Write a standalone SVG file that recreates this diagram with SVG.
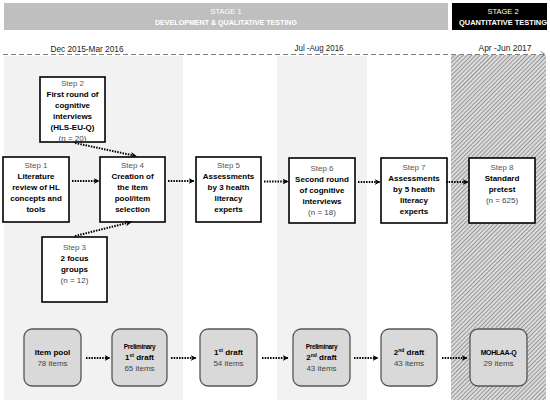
<svg xmlns="http://www.w3.org/2000/svg" width="550" height="405" viewBox="0 0 550 405">
<defs>
<pattern id="hatch" width="3" height="3" patternUnits="userSpaceOnUse" patternTransform="rotate(45)">
<rect width="3" height="3" fill="#dcdcdc"/>
<line x1="0" y1="0" x2="0" y2="3" stroke="#7a7a7a" stroke-width="1.4"/>
</pattern>
<marker id="chev" markerWidth="7" markerHeight="7" refX="5.5" refY="3.5" orient="auto" markerUnits="userSpaceOnUse">
<path d="M0,0.5 L6,3.5 L0,6.5 L2,3.5 z" fill="#000"/>
</marker>
<marker id="tl" markerWidth="7" markerHeight="7" refX="5" refY="3.5" orient="auto" markerUnits="userSpaceOnUse">
<path d="M0.5,0.5 L5,3.5 L0.5,6.5" fill="none" stroke="#808080" stroke-width="1"/>
</marker>
</defs>
<style>
text{font-family:"Liberation Sans",Arial,sans-serif;text-anchor:middle;}
.hdr{fill:#fff;font-size:7.5px;}
.hb{font-weight:bold;}
.date{font-size:9px;fill:#222;}
.box{fill:#fff;stroke:#000;stroke-width:1.6;}
.rbox{fill:#d9d9d9;stroke:#555;stroke-width:1.3;}
.st{font-size:8px;fill:#555;}
.b{font-size:8px;font-weight:bold;fill:#000;}
.n{font-size:8px;fill:#444;}
.pre{font-size:6.5px;font-weight:bold;fill:#000;letter-spacing:-0.35px;}
.arr{stroke:#000;stroke-width:2;stroke-dasharray:1.5,1.2;fill:none;marker-end:url(#chev);}
</style>
<g id="background">
<rect x="4" y="56" width="179" height="344" fill="#f2f2f2"/>
<rect x="277" y="56" width="90" height="344" fill="#f2f2f2"/>
<rect x="451" y="55" width="95" height="345" fill="url(#hatch)"/>
</g>
<g id="stage1">
<rect x="4" y="3" width="444" height="27" fill="#bfbfbf"/>
<text class="hdr" x="226" y="14">STAGE 1</text>
<text class="hdr hb" x="226" y="25" textLength="142" lengthAdjust="spacingAndGlyphs">DEVELOPMENT &amp; QUALITATIVE TESTING</text>
</g>
<g id="stage2">
<rect x="452" y="3" width="95" height="27" fill="#000"/>
<text class="hdr" x="503" y="14">STAGE 2</text>
<text class="hdr hb" x="503" y="25" textLength="88" lengthAdjust="spacingAndGlyphs">QUANTITATIVE TESTING</text>
</g>
<g id="timeline">
<line x1="3" y1="54.5" x2="545" y2="54.5" stroke="#808080" stroke-width="1.2" stroke-dasharray="5,3" marker-end="url(#tl)"/>
<text class="date" x="87" y="52" textLength="73" lengthAdjust="spacingAndGlyphs">Dec 2015-Mar 2016</text>
<text class="date" x="319" y="51" textLength="49" lengthAdjust="spacingAndGlyphs">Jul -Aug 2016</text>
<text class="date" x="505" y="51" textLength="53" lengthAdjust="spacingAndGlyphs">Apr -Jun 2017</text>
</g>
<g id="step2">
<rect class="box" x="40" y="77" width="65" height="65"/>
<text class="st" x="72.5" y="86">Step 2</text>
<text class="b" x="72.5" y="97">First round of</text>
<text class="b" x="72.5" y="108">cognitive</text>
<text class="b" x="72.5" y="119">interviews</text>
<text class="b" x="72.5" y="130">(HLS-EU-Q)</text>
<text class="n" x="72.5" y="141">(n = 20)</text>
</g>
<g id="step1">
<rect class="box" x="3" y="157" width="66" height="65"/>
<text class="st" x="36" y="168">Step 1</text>
<text class="b" x="36" y="179">Literature</text>
<text class="b" x="36" y="190">review of HL</text>
<text class="b" x="36" y="201">concepts and</text>
<text class="b" x="36" y="212">tools</text>
</g>
<g id="step4">
<rect class="box" x="100" y="157" width="65" height="65"/>
<text class="st" x="132.5" y="168">Step 4</text>
<text class="b" x="132.5" y="179">Creation of</text>
<text class="b" x="132.5" y="190">the item</text>
<text class="b" x="132.5" y="201">pool/item</text>
<text class="b" x="132.5" y="212">selection</text>
</g>
<g id="step3">
<rect class="box" x="42" y="237" width="65" height="65"/>
<text class="st" x="74.5" y="249.5">Step 3</text>
<text class="b" x="74.5" y="260.5">2 focus</text>
<text class="b" x="74.5" y="271.5">groups</text>
<text class="n" x="74.5" y="282.5">(n = 12)</text>
</g>
<g id="step5">
<rect class="box" x="196" y="157" width="65" height="65"/>
<text class="st" x="228.5" y="168">Step 5</text>
<text class="b" x="228.5" y="179">Assessments</text>
<text class="b" x="228.5" y="190">by 3 health</text>
<text class="b" x="228.5" y="201">literacy</text>
<text class="b" x="228.5" y="212">experts</text>
</g>
<g id="step6">
<rect class="box" x="289" y="158" width="66" height="65"/>
<text class="st" x="322" y="171">Step 6</text>
<text class="b" x="322" y="182">Second round</text>
<text class="b" x="322" y="193">of cognitive</text>
<text class="b" x="322" y="204">interviews</text>
<text class="n" x="322" y="215">(n = 18)</text>
</g>
<g id="step7">
<rect class="box" x="381" y="158" width="66" height="65"/>
<text class="st" x="414" y="170">Step 7</text>
<text class="b" x="414" y="181">Assessments</text>
<text class="b" x="414" y="192">by 5 health</text>
<text class="b" x="414" y="203">literacy</text>
<text class="b" x="414" y="214">experts</text>
</g>
<g id="step8">
<rect class="box" x="469" y="158" width="66" height="65"/>
<text class="st" x="502" y="170">Step 8</text>
<text class="b" x="502" y="181">Standard</text>
<text class="b" x="502" y="192">pretest</text>
<text class="n" x="502" y="203">(n = 625)</text>
</g>
<g id="itempool">
<rect class="rbox" x="24" y="329" width="57" height="57" rx="8"/>
<text class="b" x="52.5" y="355">Item pool</text>
<text class="n" x="52.5" y="366">78 items</text>
</g>
<g id="prelim1">
<rect class="rbox" x="112" y="329" width="55" height="57" rx="8"/>
<text class="pre" x="139.5" y="349">Preliminary</text>
<text class="b" x="139.5" y="360">1<tspan font-size="5" dy="-3">st</tspan><tspan dy="3"> draft</tspan></text>
<text class="n" x="139.5" y="371">65 items</text>
</g>
<g id="draft1">
<rect class="rbox" x="200" y="329" width="57" height="57" rx="8"/>
<text class="b" x="228.5" y="355">1<tspan font-size="5" dy="-3">st</tspan><tspan dy="3"> draft</tspan></text>
<text class="n" x="228.5" y="366">54 items</text>
</g>
<g id="prelim2">
<rect class="rbox" x="293" y="329" width="57" height="57" rx="8"/>
<text class="pre" x="321.5" y="349">Preliminary</text>
<text class="b" x="321.5" y="360">2<tspan font-size="5" dy="-3">nd</tspan><tspan dy="3"> draft</tspan></text>
<text class="n" x="321.5" y="371">43 items</text>
</g>
<g id="draft2">
<rect class="rbox" x="381" y="329" width="56" height="57" rx="8"/>
<text class="b" x="409" y="355">2<tspan font-size="5" dy="-3">nd</tspan><tspan dy="3"> draft</tspan></text>
<text class="n" x="409" y="366">43 items</text>
</g>
<g id="mohlaaq">
<rect class="rbox" x="470" y="329" width="57" height="57" rx="8"/>
<text class="pre" x="498.5" y="355" style="font-size:7px">MOHLAA-Q</text>
<text class="n" x="498.5" y="366">29 items</text>
</g>
<g id="connectors">
<line class="arr" x1="72" y1="181" x2="99" y2="181"/>
<line class="arr" x1="168" y1="181" x2="194" y2="181"/>
<line class="arr" x1="264" y1="181.5" x2="288" y2="181.5"/>
<line class="arr" x1="358" y1="182" x2="380" y2="182"/>
<line class="arr" x1="446" y1="182" x2="468" y2="182"/>
<line class="arr" x1="75" y1="143" x2="136" y2="156"/>
<line class="arr" x1="75" y1="236" x2="131" y2="222"/>
<line class="arr" x1="86" y1="358" x2="110" y2="358"/>
<line class="arr" x1="171" y1="358" x2="196" y2="358"/>
<line class="arr" x1="262" y1="358" x2="288" y2="358"/>
<line class="arr" x1="354" y1="358" x2="378" y2="358"/>
<line class="arr" x1="442" y1="358" x2="467" y2="358"/>
</g>
</svg>
